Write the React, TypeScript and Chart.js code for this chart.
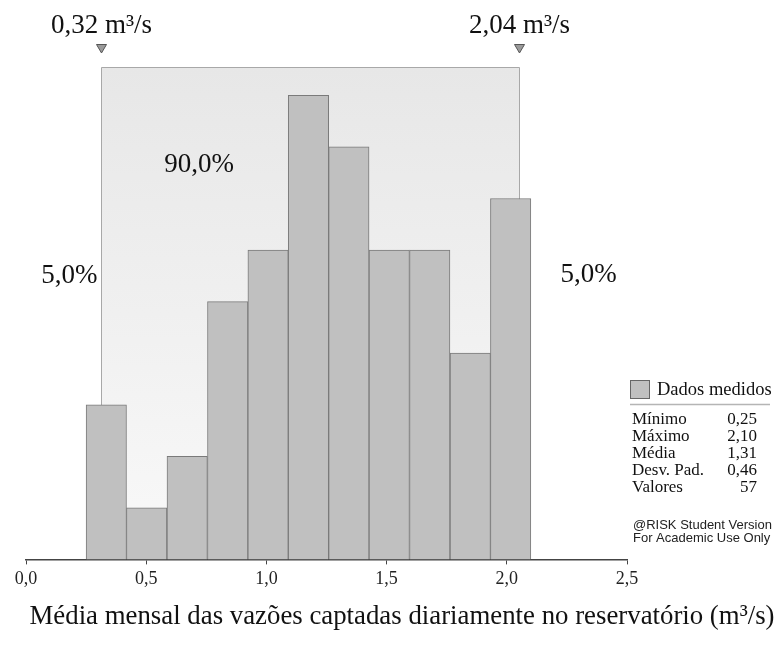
import React, { useEffect, useRef } from "react";
import { Chart, registerables } from "chart.js";

Chart.register(...registerables);

// ---- data ----
const binEdges = [0.25, 0.418, 0.586, 0.755, 0.923, 1.091, 1.259, 1.427, 1.595, 1.764, 1.932, 2.1];
const binCounts = [3, 1, 2, 5, 6, 9, 8, 6, 6, 4, 7];
const xTicks = [0, 0.5, 1.0, 1.5, 2.0, 2.5];
const delimiterValues = [0.31, 2.05];
const delimiterLabels = ["0,32 m³/s", "2,04 m³/s"];
const regionLabels = ["5,0%", "90,0%", "5,0%"];
const regionLabelX = [0.18, 0.72, 2.34];
const regionLabelY = [5.5, 7.65, 5.52];
const legendLabel = "Dados medidos";
const statNames = ["Mínimo", "Máximo", "Média", "Desv. Pad.", "Valores"];
const statValues = ["0,25", "2,10", "1,31", "0,46", "57"];
const watermark = ["@RISK Student Version", "For Academic Use Only"];
const axisTitle = "Média mensal das vazões captadas diariamente no reservatório (m³/s)";

const SERIF = "'Liberation Serif', 'Times New Roman', serif";
const SANS = "'Liberation Sans', Arial, sans-serif";
const BAR_FILL = "#c0c0c0";
const BAR_EDGE = "#7a7a7a";

const fmt = (v: number) => v.toFixed(1).replace(".", ",");

const overlayPlugin = {
  id: "riskOverlay",
  beforeDatasetsDraw(chart: any) {
    const { ctx, chartArea, scales } = chart;
    const x = scales.x;
    const x0 = Math.round(x.getPixelForValue(delimiterValues[0])) + 0.5;
    const x1 = Math.round(x.getPixelForValue(delimiterValues[1])) + 0.5;
    const top = Math.round(chartArea.top) + 0.5;
    const bottom = chartArea.bottom - 1;
    ctx.save();
    const g = ctx.createLinearGradient(0, top, 0, bottom);
    g.addColorStop(0, "#e7e7e7");
    g.addColorStop(1, "#f9f9f9");
    ctx.fillStyle = g;
    ctx.fillRect(x0, top, x1 - x0, bottom - top);
    ctx.strokeStyle = "#a8a8a8";
    ctx.lineWidth = 1;
    ctx.beginPath();
    ctx.moveTo(x0, bottom);
    ctx.lineTo(x0, top);
    ctx.lineTo(x1, top);
    ctx.lineTo(x1, bottom);
    ctx.stroke();
    ctx.restore();
  },
  afterDraw(chart: any) {
    const { ctx, scales } = chart;
    const x = scales.x;
    const y = scales.y;
    ctx.save();
    // delimiter markers and labels
    delimiterValues.forEach((v, i) => {
      const px = Math.round(x.getPixelForValue(v)) + 0.5;
      ctx.fillStyle = "#9a9a9a";
      ctx.strokeStyle = "#555";
      ctx.lineWidth = 1;
      ctx.beginPath();
      ctx.moveTo(px - 5, 44.5);
      ctx.lineTo(px + 5, 44.5);
      ctx.lineTo(px, 53);
      ctx.closePath();
      ctx.fill();
      ctx.stroke();
      ctx.fillStyle = "#111";
      ctx.font = `27px ${SERIF}`;
      ctx.textAlign = "center";
      ctx.textBaseline = "alphabetic";
      ctx.fillText(delimiterLabels[i], px, 33);
    });
    // region percentages
    ctx.font = `27px ${SERIF}`;
    ctx.fillStyle = "#111";
    ctx.textAlign = "center";
    ctx.textBaseline = "middle";
    regionLabels.forEach((t, i) => {
      ctx.fillText(t, x.getPixelForValue(regionLabelX[i]), y.getPixelForValue(regionLabelY[i]));
    });
    // axis title (slightly widened like the reference rendering)
    ctx.font = `28px ${SERIF}`;
    const w = ctx.measureText(axisTitle).width;
    const sx = 745 / w;
    ctx.save();
    ctx.translate(402, 617);
    ctx.scale(sx, 1);
    ctx.textAlign = "center";
    ctx.textBaseline = "middle";
    ctx.fillText(axisTitle, 0, 0);
    ctx.restore();
    // legend
    ctx.fillStyle = BAR_FILL;
    ctx.strokeStyle = "#666";
    ctx.lineWidth = 1;
    ctx.fillRect(630.5, 380.5, 19, 18);
    ctx.strokeRect(630.5, 380.5, 19, 18);
    ctx.fillStyle = "#111";
    ctx.font = `18.5px ${SERIF}`;
    ctx.textAlign = "left";
    ctx.textBaseline = "middle";
    ctx.fillText(legendLabel, 657, 390);
    ctx.strokeStyle = "#b5b5b5";
    ctx.lineWidth = 1.5;
    ctx.beginPath();
    ctx.moveTo(630, 404.5);
    ctx.lineTo(770, 404.5);
    ctx.stroke();
    ctx.font = `17px ${SERIF}`;
    statNames.forEach((n, i) => {
      const yy = 420 + i * 16.9;
      ctx.textAlign = "left";
      ctx.fillText(n, 632, yy);
      ctx.textAlign = "right";
      ctx.fillText(statValues[i], 757, yy);
    });
    ctx.font = `13px ${SANS}`;
    ctx.textAlign = "left";
    ctx.fillStyle = "#222";
    watermark.forEach((w2, i) => ctx.fillText(w2, 633, 525 + i * 13));
    ctx.restore();
  },
};

export default function App() {
  const ref = useRef<HTMLCanvasElement | null>(null);
  useEffect(() => {
    if (!ref.current) return;
    const data = binCounts.map((c, i) => ({ x: (binEdges[i] + binEdges[i + 1]) / 2, y: c }));
    const chart = new Chart(ref.current, {
      type: "bar",
      data: {
        datasets: [
          {
            label: legendLabel,
            data,
            backgroundColor: BAR_FILL,
            borderColor: BAR_EDGE,
            borderWidth: 1,
            borderSkipped: "start",
            barPercentage: 1,
            categoryPercentage: 1,
          } as any,
        ],
      },
      options: {
        responsive: false,
        animation: false,
        devicePixelRatio: 1,
        layout: { padding: { left: 26, right: 150, top: 67, bottom: 56 } },
        plugins: { legend: { display: false }, tooltip: { enabled: false } },
        scales: {
          x: {
            type: "linear",
            min: xTicks[0],
            max: xTicks[xTicks.length - 1],
            offset: false,
            afterBuildTicks: (axis: any) => {
              axis.ticks = xTicks.map((v) => ({ value: v }));
            },
            grid: { display: true, drawOnChartArea: false, drawTicks: true, tickLength: 5, color: "#444", offset: false },
            border: { display: true, color: "#444", width: 1.5 },
            ticks: {
              padding: 4,
              color: "#222",
              font: { family: SERIF, size: 18 },
              callback: (v: any) => fmt(Number(v)),
              maxRotation: 0,
            },
            title: { display: false },
          },
          y: { display: false, min: 0, max: 9.55 },
        },
      },
      plugins: [overlayPlugin],
    });
    return () => chart.destroy();
  }, []);
  return (
    <div style={{ position: "absolute", left: 0, top: 0, width: 777, height: 650, background: "#fff" }}>
      <canvas ref={ref} width={777} height={650} style={{ display: "block" }} />
    </div>
  );
}
